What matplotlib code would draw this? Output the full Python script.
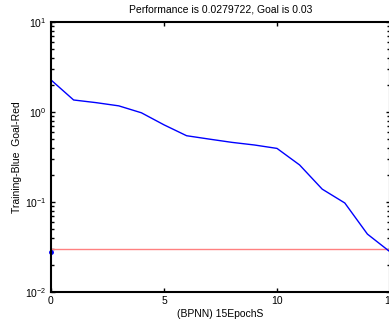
import numpy as np
import matplotlib
matplotlib.use("Agg")
import matplotlib.pyplot as plt
from matplotlib.ticker import LogLocator, NullFormatter

# training curve
epochs = [0, 1, 2, 3, 4, 5, 6, 7, 8, 9, 10, 11, 12, 13, 14, 15]
perf = [2.27, 1.36, 1.27, 1.17, 0.98, 0.72, 0.545, 0.50, 0.46, 0.43, 0.394,
        0.258, 0.139, 0.0975, 0.044, 0.0279722]
goal = 0.03
best_x = [0]
best_y = [0.0279722]
xticks = [0, 5, 10, 15]

plt.rcParams['font.family'] = ['Liberation Sans', 'DejaVu Sans']

fig = plt.figure(figsize=(3.89, 3.21), dpi=100)
ax = fig.add_axes([51 / 389, 1 - 292 / 321, (390 - 51) / 389, (292 - 22) / 321])

ax.plot([epochs[0], epochs[-1]], [goal, goal], color='#ff8080', lw=1.0)
ax.plot(epochs, perf, color='#0000ff', lw=1.0)
ax.plot(best_x, best_y, 'o', color='#0000ff', ms=2.5, clip_on=False)

ax.set_yscale('log')
ax.set_ylim(1e-2, 1e1)
ax.set_xlim(0, 15)
ax.set_xticks(xticks)
ax.yaxis.set_minor_locator(LogLocator(base=10, subs=np.arange(2, 10), numticks=10))
ax.yaxis.set_minor_formatter(NullFormatter())

ax.tick_params(which='both', direction='in', top=True, right=True,
               labelsize=7.5, pad=3, width=1.0)
ax.tick_params(which='major', length=3)
ax.tick_params(which='minor', length=2)

for side in ['left', 'top', 'bottom', 'right']:
    ax.spines[side].set_linewidth(1.5)

ax.set_title('Performance is 0.0279722, Goal is 0.03', fontsize=7.5, pad=7)
ax.set_xlabel('(BPNN) 15EpochS', fontsize=7.5, labelpad=2)
ax.set_ylabel('Training-Blue  Goal-Red', fontsize=7.5, labelpad=2)

fig.savefig('out.png', dpi=100)
